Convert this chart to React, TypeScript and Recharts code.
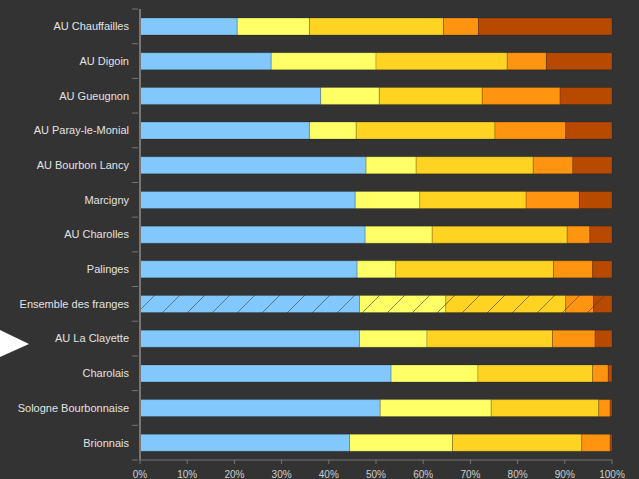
import React from "react";
import { BarChart, Bar, XAxis, YAxis, Cell } from "recharts";

// territoires, du haut vers le bas
const categories = [
  "AU Chauffailles",
  "AU Digoin",
  "AU Gueugnon",
  "AU Paray-le-Monial",
  "AU Bourbon Lancy",
  "Marcigny",
  "AU Charolles",
  "Palinges",
  "Ensemble des franges",
  "AU La Clayette",
  "Charolais",
  "Sologne Bourbonnaise",
  "Brionnais",
];

// parts en % (segments empilés, de gauche à droite)
const part1 = [20.6, 27.8, 38.3, 35.9, 47.9, 45.6, 47.7, 46.0, 46.5, 46.5, 53.2, 50.9, 44.4];
const part2 = [15.3, 22.2, 12.4, 9.9, 10.6, 13.7, 14.2, 8.2, 18.3, 14.3, 18.4, 23.5, 21.8];
const part3 = [28.4, 27.8, 21.8, 29.4, 24.8, 22.5, 28.6, 33.4, 25.4, 26.6, 24.3, 22.8, 27.4];
const part4 = [7.4, 8.3, 16.5, 15.0, 8.4, 11.3, 4.8, 8.3, 5.9, 9.0, 3.3, 2.4, 6.0];
const part5 = [28.3, 13.9, 11.0, 9.8, 8.3, 6.9, 4.7, 4.1, 3.9, 3.6, 0.8, 0.4, 0.4];

const xTicks = [0, 10, 20, 30, 40, 50, 60, 70, 80, 90, 100];
const hatched = "Ensemble des franges";

const series = [
  { key: "p1", color: "#82c8fc" },
  { key: "p2", color: "#ffff66" },
  { key: "p3", color: "#ffd321" },
  { key: "p4", color: "#ff9410" },
  { key: "p5", color: "#b84a00" },
];

const data = categories.map((name, i) => ({
  name,
  p1: part1[i],
  p2: part2[i],
  p3: part3[i],
  p4: part4[i],
  p5: part5[i],
}));

const STEP = 451 / categories.length;

const CategoryTick = (props: any) => {
  const { x, y, payload, index } = props;
  const isLast = index === categories.length - 1;
  return (
    <g>
      <text
        x={x - 3}
        y={y}
        dy="0.35em"
        textAnchor="end"
        fill="#e2e2e2"
        fontSize={11}
        fontFamily="Liberation Sans, Arial, sans-serif"
      >
        {payload.value}
      </text>
      <line x1={x} x2={x + 6} y1={y - STEP / 2} y2={y - STEP / 2} stroke="#777" />
      {isLast && (
        <line x1={x} x2={x + 6} y1={y + STEP / 2} y2={y + STEP / 2} stroke="#777" />
      )}
    </g>
  );
};

const App: React.FC = () => {
  return (
    <div
      style={{
        position: "absolute",
        left: 0,
        top: 0,
        width: 639,
        height: 479,
        background: "#333333",
        overflow: "hidden",
      }}
    >
      <svg width={30} height={479} style={{ position: "absolute", left: 0, top: 0 }}>
        <polygon points="0,330 29,344 0,357" fill="#ffffff" />
      </svg>
      <BarChart
        width={639}
        height={479}
        data={data}
        layout="vertical"
        barSize={17}
        margin={{ top: 9, right: 27, bottom: 0, left: 4 }}
        style={{ position: "absolute", left: 0, top: 0 }}
      >
        <defs>
          {series.map((s) => (
            <pattern
              key={s.key}
              id={`hatch-${s.key}`}
              patternUnits="userSpaceOnUse"
              width={25}
              height={25}
            >
              <rect width={25} height={25} fill={s.color} />
              <path
                d="M0,25 L25,0 M-3,3 L3,-3 M22,28 L28,22"
                stroke="#3a3a3a"
                strokeWidth={0.6}
              />
            </pattern>
          ))}
        </defs>
        <XAxis
          type="number"
          domain={[0, 100]}
          ticks={xTicks}
          tickFormatter={(v) => `${v}%`}
          axisLine={{ stroke: "#777" }}
          tickLine={{ stroke: "#777" }}
          tickSize={4}
          tickMargin={7}
          height={19}
          tick={{ fill: "#cfcfcf", fontSize: 10, fontFamily: "Liberation Sans, Arial, sans-serif" }}
          interval={0}
        />
        <XAxis
          xAxisId="top"
          orientation="top"
          type="number"
          domain={[0, 100]}
          ticks={xTicks}
          tickFormatter={() => ""}
          axisLine={{ stroke: "#777" }}
          tickLine={{ stroke: "#777" }}
          tickSize={2}
          height={0}
          interval={0}
        />
        <YAxis
          type="category"
          dataKey="name"
          width={136}
          axisLine={{ stroke: "#777", strokeWidth: 2 }}
          tickLine={false}
          tick={<CategoryTick />}
          interval={0}
        />
        {series.map((s) => (
          <Bar
            key={s.key}
            dataKey={s.key}
            stackId="a"
            fill={s.color}
            stroke="rgba(0,0,0,0.18)"
            strokeWidth={1}
            isAnimationActive={false}
          >
            {data.map((d) => (
              <Cell
                key={d.name}
                fill={d.name === hatched ? `url(#hatch-${s.key})` : s.color}
              />
            ))}
          </Bar>
        ))}
      </BarChart>
    </div>
  );
};

export default App;
